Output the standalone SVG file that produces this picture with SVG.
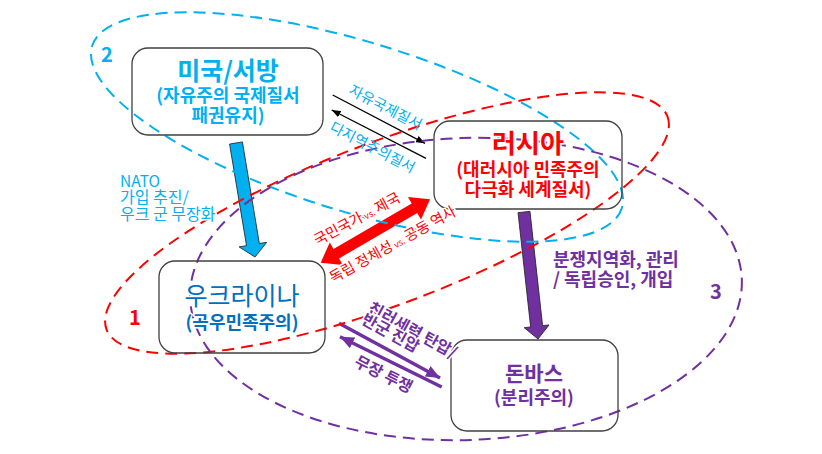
<svg xmlns="http://www.w3.org/2000/svg" width="822" height="454" viewBox="0 0 822 454">
<defs>
<style>
text { font-family: "Noto Sans CJK KR", "Malgun Gothic", "Noto Sans", sans-serif; }
.box { fill: none; stroke: #404040; stroke-width: 1.3; }
.ell { fill: none; stroke-width: 2; stroke-dasharray: 12 7; }
.blue { fill: #00B0F0; }
.red { fill: #FF0000; }
.purple { fill: #7030A0; }
.dblue { fill: #0070C0; }
.b { font-weight: bold; }
.halo { stroke: #ffffff; stroke-width: 3; paint-order: stroke; stroke-linejoin: round; }
.thin { stroke: #000000; stroke-width: 1.3; fill: none; }
.pline { stroke: #7030A0; stroke-width: 3.5; fill: none; }
</style>
<marker id="ah-black" markerUnits="userSpaceOnUse" markerWidth="9" markerHeight="7" viewBox="0 0 9 7" refX="9" refY="3.5" orient="auto"><path d="M0,0 L9,3.5 L0,7 z" fill="#000000"/></marker>
<marker id="ah-purple" markerUnits="userSpaceOnUse" markerWidth="14" markerHeight="12" viewBox="0 0 14 12" refX="14" refY="6" orient="auto"><path d="M0,0 L14,6 L0,12 z" fill="#7030A0"/></marker>
</defs>
<rect x="0" y="0" width="822" height="454" fill="#ffffff"/>

<g id="connectors">
  <g transform="translate(236,143) rotate(-9.46)"><polygon points="-6.5,0 6.5,0 6.5,103 14,103 0,115.6 -14,103 -6.5,103" fill="#00B0F0" stroke="#222222" stroke-width="0.8"/></g>
  <g transform="translate(524,212) rotate(-6.29)"><polygon points="-6,0 6,0 6,115 12.5,115 0,127.8 -12.5,115 -6,115" fill="#7030A0" stroke="#222222" stroke-width="0.8"/></g>
  <g transform="translate(320.7,262.7) rotate(-30.1)"><polygon points="0,0 18,-13 18,-5.5 108.4,-5.5 108.4,-13 126.4,0 108.4,13 108.4,5.5 18,5.5 18,13" fill="#FF0000"/></g>
  <line class="thin" x1="332.7" y1="95" x2="425" y2="143.3" marker-end="url(#ah-black)"/>
  <line class="thin" x1="426" y1="158.3" x2="331.7" y2="110" marker-end="url(#ah-black)"/>
  <line class="pline" x1="339" y1="323.3" x2="440" y2="378" marker-end="url(#ah-purple)"/>
  <line class="pline" x1="441.7" y1="387" x2="340" y2="336.7" marker-end="url(#ah-purple)"/>
</g>

<g id="groups">
  <ellipse id="group-2" class="ell" cx="357" cy="127" rx="277" ry="85" transform="rotate(17 357 127)" stroke="#00B0F0"/>
  <ellipse id="group-1" class="ell" cx="387" cy="223" rx="300" ry="81" transform="rotate(-20.8 387 223)" stroke="#FF0000"/>
  <ellipse id="group-3" class="ell" cx="466" cy="289" rx="276" ry="151" transform="rotate(-2 466 289)" stroke="#7030A0"/>
</g>

<g id="node-usa">
  <rect class="box" x="132" y="48" width="191" height="87" rx="16"/>
  <text x="228" y="80" text-anchor="middle" font-size="25" class="b blue">미국/서방</text>
  <text x="228" y="102" text-anchor="middle" font-size="18" class="b blue">(자유주의 국제질서</text>
  <text x="228" y="122" text-anchor="middle" font-size="18" class="b blue">패권유지)</text>
</g>

<g id="node-russia">
  <rect class="box" x="434" y="121" width="188" height="88" rx="16"/>
  <text x="528" y="153" text-anchor="middle" font-size="26" class="b red halo">러시아</text>
  <text x="528" y="176" text-anchor="middle" font-size="18" class="b red halo">(대러시아 민족주의</text>
  <text x="528" y="196" text-anchor="middle" font-size="18" class="b red halo">다극화 세계질서)</text>
</g>

<g id="node-ukraine">
  <rect class="box" x="159" y="261" width="166" height="92" rx="16"/>
  <text x="242" y="305" text-anchor="middle" font-size="25" class="dblue halo">우크라이나</text>
  <text x="242" y="329" text-anchor="middle" font-size="18" class="b dblue halo">(곡우민족주의)</text>
</g>

<g id="node-donbas">
  <rect class="box" x="451" y="340" width="167" height="91" rx="16"/>
  <text x="534" y="381" text-anchor="middle" font-size="21" class="b purple">돈바스</text>
  <text x="534" y="404" text-anchor="middle" font-size="18" class="b purple">(분리주의)</text>
</g>

<g id="labels">
  <text x="107" y="62" text-anchor="middle" font-size="20" class="b blue">2</text>
  <text x="135" y="325" text-anchor="middle" font-size="20" class="b red">1</text>
  <text x="716" y="299" text-anchor="middle" font-size="20" class="b purple">3</text>

  <text x="120" y="187" font-size="15.5" class="blue">NATO</text>
  <text x="120" y="203" font-size="16" class="blue">가입 추진/</text>
  <text x="120" y="220" font-size="16" class="blue halo">우크 군 무장화</text>

  <g transform="translate(385.5,107.5) rotate(27.5)"><text x="0" y="5" text-anchor="middle" font-size="14.5" class="blue">자유국제질서</text></g>
  <g transform="translate(372.5,147.5) rotate(27.5)"><text x="0" y="5" text-anchor="middle" font-size="14.5" class="blue">다지역주의질서</text></g>

  <g transform="translate(357,219) rotate(-28)"><text x="0" y="5" text-anchor="middle" font-size="14.5" class="red halo">국민국가<tspan font-size="9"> vs. </tspan>제국</text></g>
  <g transform="translate(392.75,244.5) rotate(-29)"><text x="0" y="5" text-anchor="middle" font-size="14.5" class="red halo">독립 정체성<tspan font-size="9"> vs. </tspan>공동 역사</text></g>

  <g transform="translate(366.8,311.5) rotate(28.7)"><text font-size="16" class="b purple halo"><tspan x="0" y="0">친러세력 탄압/</tspan><tspan x="0" y="13">반군 진압</tspan></text></g>
  <g transform="translate(383.75,374) rotate(27)"><text x="0" y="6" text-anchor="middle" font-size="16" class="b purple">무장 투쟁</text></g>

  <text x="553" y="266" font-size="18" class="b purple">분쟁지역화, 관리</text>
  <text x="553" y="286" font-size="18" class="b purple">/ 독립승인, 개입</text>
</g>
</svg>
